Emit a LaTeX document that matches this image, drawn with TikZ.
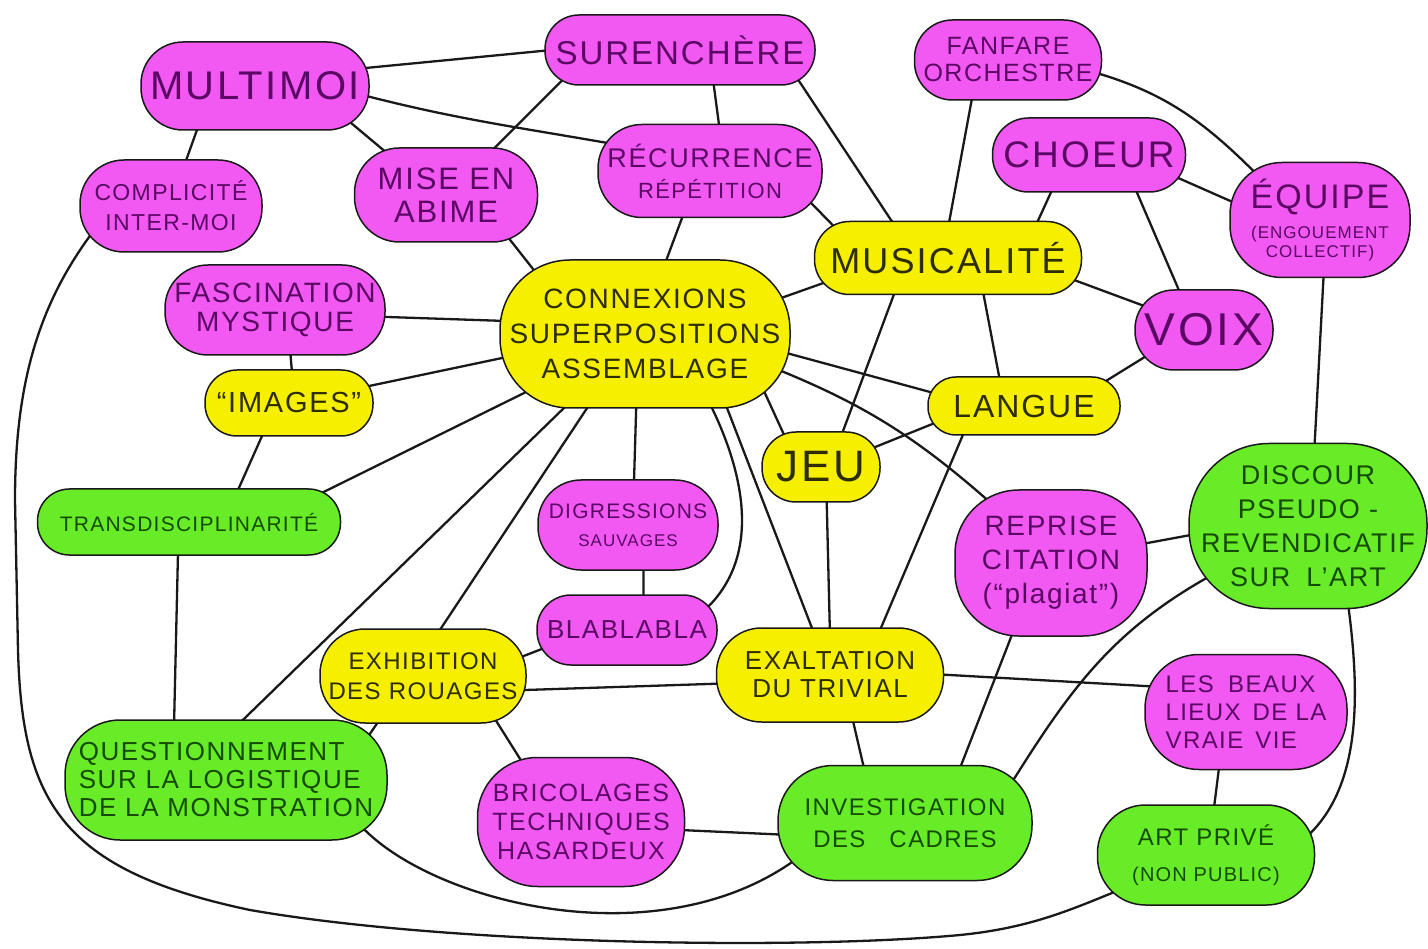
\documentclass[tikz,border=0pt]{standalone}
\usepackage{fontspec}
\setmainfont{Liberation Sans}[LetterSpace=6]
\usetikzlibrary{backgrounds,calc}
\definecolor{mag}{RGB}{242,88,242}
\definecolor{yel}{RGB}{246,240,0}
\definecolor{grn}{RGB}{104,236,40}
\definecolor{magt}{RGB}{90,8,100}
\definecolor{yelt}{RGB}{45,45,0}
\definecolor{grnt}{RGB}{20,75,0}
\definecolor{ink}{RGB}{25,25,25}
\newcommand{\fsz}[2]{\fontsize{#1}{#2}\selectfont}
\tikzset{
  blob/.style={draw=ink, line width=1.5pt, inner sep=0pt, align=center, shape=rectangle},
  mg/.style={blob, fill=mag, text=magt},
  yl/.style={blob, fill=yel, text=yelt},
  gr/.style={blob, fill=grn, text=grnt},
  sz/.style n args={3}{minimum width=#1, minimum height=#2, rounded corners=#3},
  link/.style={draw=ink, line width=2.3pt, line cap=round},
}
\begin{document}
\begin{tikzpicture}[x=1pt,y=-1pt]
\useasboundingbox (0,0) rectangle (1428,949);
% nodes
\node[mg,sz={228pt}{88pt}{42pt},font={\fsz{40}{44}}] (mul) at (255,86) {MULTIMOI};
\node[mg,sz={270pt}{70pt}{34pt},font={\fsz{33}{36}}] (sur) at (680,50) {SURENCHÈRE};
\node[mg,sz={187pt}{80pt}{38pt},font={\fsz{25}{27}}] (fan) at (1008,60) {FANFARE\\ORCHESTRE};
\node[mg,sz={182pt}{92pt}{44pt},font={\fsz{23}{30}}] (com) at (171,206) {COMPLICITÉ\\INTER-MOI};
\node[mg,sz={183pt}{94pt}{45pt},font={\fsz{31}{33}}] (mise) at (446,195) {MISE EN\\ABIME};
\node[mg,sz={224pt}{93pt}{44pt},font={\fsz{27}{31}}] (rec) at (710,171) {RÉCURRENCE\\{\fsz{22}{26}RÉPÉTITION}};
\node[mg,sz={193pt}{74pt}{36pt},font={\fsz{37}{40}}] (cho) at (1089,155) {CHOEUR};
\node[mg,sz={180pt}{115pt}{52pt},font={\fsz{17}{19}}] (equ) at (1320,220) {{\fsz{34}{36}ÉQUIPE}\\[11pt](ENGOUEMENT\\COLLECTIF)};
\node[yl,sz={267pt}{73pt}{35pt},font={\fsz{36}{40}}] (mus) at (948,258) {MUSICALITÉ};
\node[mg,sz={220pt}{90pt}{43pt},font={\fsz{28}{29}}] (fas) at (275,310) {FASCINATION\\MYSTIQUE};
\node[yl,sz={290pt}{148pt}{70pt},font={\fsz{28}{35}}] (con) at (645,334) {CONNEXIONS\\SUPERPOSITIONS\\ASSEMBLAGE};
\node[mg,sz={138pt}{80pt}{39pt},font={\fsz{46}{48}}] (voi) at (1204,330) {VOIX};
\node[yl,sz={168pt}{66pt}{32pt},font={\fsz{29}{32}}] (ima) at (289,403) {“IMAGES”};
\node[yl,sz={192pt}{58pt}{28pt},font={\fsz{32}{34}}] (lan) at (1024,406) {LANGUE};
\node[yl,sz={118pt}{70pt}{34pt},font={\fsz{44}{46}}] (jeu) at (821,467) {JEU};
\node[gr,sz={303pt}{66pt}{32pt},font={\fsz{21}{24}}] (tra) at (189,522) {TRANSDISCIPLINARITÉ};
\node[mg,sz={180pt}{90pt}{43pt},font={\fsz{21}{28}}] (dig) at (628,525) {DIGRESSIONS\\{\fsz{17}{20}SAUVAGES}};
\node[mg,sz={192pt}{146pt}{64pt},font={\fsz{28}{34}}] (rep) at (1051,563) {REPRISE\\CITATION\\(“plagiat”)};
\node[gr,sz={238pt}{165pt}{80pt},font={\fsz{27}{34}}] (dis) at (1308,526) {DISCOUR\\PSEUDO -\\REVENDICATIF\\SUR\hspace{0.6em}L’ART};
\node[mg,sz={180pt}{70pt}{34pt},font={\fsz{26}{28}}] (bla) at (627,630) {BLABLABLA};
\node[yl,sz={206pt}{94pt}{45pt},font={\fsz{24}{30}}] (exh) at (423,676) {EXHIBITION\\DES ROUAGES};
\node[yl,sz={227pt}{94pt}{45pt},font={\fsz{26}{28}}] (exa) at (830,675) {EXALTATION\\DU TRIVIAL};
\node[mg,sz={202pt}{115pt}{54pt},font={\fsz{24}{28}},align=left] (lbe) at (1246,712) {LES\hspace{0.6em}BEAUX\\LIEUX\hspace{0.5em}DE LA\\VRAIE\hspace{0.5em}VIE};
\node[gr,sz={322pt}{120pt}{55pt},font={\fsz{26}{28}},align=left] (que) at (226,780) {QUESTIONNEMENT\\SUR LA LOGISTIQUE\\DE LA MONSTRATION};
\node[mg,sz={207pt}{129pt}{60pt},font={\fsz{25}{29}}] (bri) at (581,822) {BRICOLAGES\\TECHNIQUES\\HASARDEUX};
\node[gr,sz={254pt}{115pt}{55pt},font={\fsz{24}{32}}] (inv) at (905,823) {INVESTIGATION\\DES\hspace{1em}CADRES};
\node[gr,sz={217pt}{100pt}{48pt},font={\fsz{20}{36}}] (art) at (1206,855) {{\fsz{24}{36}ART PRIVÉ}\\(NON PUBLIC)};
% connectors (drawn behind the nodes, from points just inside each node)
\begin{scope}[on background layer]
\fill[white] (0,0) rectangle (1428,949);
\draw[link] ($(mul)!0.8!(mul.10)$) -- ($(sur)!0.8!(sur.179)$);
\draw[link] ($(mul)!0.8!(mul.-3)$) to[out=-15,in=170] ($(rec)!0.8!(rec.164)$);
\draw[link] ($(mul)!0.8!(mul.-20)$) -- ($(mise)!0.8!(mise.145)$);
\draw[link] ($(mul)!0.8!(mul.213)$) -- ($(com)!0.8!(com.72)$);
\draw[link] ($(sur)!0.8!(sur.191)$) -- ($(mise)!0.8!(mise.44)$);
\draw[link] ($(sur)!0.8!(sur.-41)$) -- ($(rec)!0.8!(rec.75)$);
\draw[link] ($(sur)!0.8!(sur.-8)$) -- ($(mus)!0.8!(mus.150)$);
\draw[link] ($(rec)!0.8!(rec.237)$) -- ($(con)!0.8!(con.75)$);
\draw[link] ($(rec)!0.8!(rec.-13)$) -- ($(mus)!0.8!(mus.167)$);
\draw[link] ($(mise)!0.8!(mise.-33)$) -- ($(con)!0.8!(con.151)$);
\draw[link] ($(fan)!0.8!(fan.223)$) -- ($(mus)!0.8!(mus.90)$);
\draw[link] ($(fan)!0.8!(fan.-7)$) to[out=-15,in=135] ($(equ)!0.8!(equ.144)$);
\draw[link] ($(cho)!0.8!(cho.-13)$) -- ($(equ)!0.8!(equ.171)$);
\draw[link] ($(cho)!0.8!(cho.221)$) -- ($(mus)!0.8!(mus.19)$);
\draw[link] ($(cho)!0.8!(cho.-34)$) -- ($(voi)!0.8!(voi.124)$);
\draw[link] ($(mus)!0.8!(mus.190)$) -- ($(con)!0.8!(con.14)$);
\draw[link] ($(mus)!0.8!(mus.-8)$) -- ($(voi)!0.8!(voi.158)$);
\draw[link] ($(mus)!0.8!(mus.-41)$) -- ($(lan)!0.8!(lan.135)$);
\draw[link] ($(mus)!0.8!(mus.210)$) -- ($(jeu)!0.8!(jeu.56)$);
\draw[link] ($(equ)!0.8!(equ.-85)$) -- ($(dis)!0.8!(dis.85)$);
\draw[link] ($(voi)!0.8!(voi.204)$) -- ($(lan)!0.8!(lan.16)$);
\draw[link] ($(fas)!0.8!(fas.-4)$) -- ($(con)!0.8!(con.174)$);
\draw[link] ($(fas)!0.8!(fas.-68)$) -- ($(ima)!0.8!(ima.83)$);
\draw[link] ($(ima)!0.8!(ima.12)$) -- ($(con)!0.8!(con.189)$);
\draw[link] ($(ima)!0.8!(ima.228)$) -- ($(tra)!0.8!(tra.30)$);
\draw[link] ($(tra)!0.8!(tra.11)$) -- ($(con)!0.8!(con.206)$);
\draw[link] ($(tra)!0.8!(tra.248)$) -- ($(que)!0.8!(que.137)$);
\draw[link] ($(con)!0.8!(con.222)$) -- ($(que)!0.8!(que.84)$);
\draw[link] ($(con)!0.8!(con.231)$) -- ($(exh)!0.8!(exh.73)$);
\draw[link] ($(con)!0.8!(con.262)$) -- ($(dig)!0.8!(dig.81)$);
\draw[link] ($(dig)!0.8!(dig.-67)$) -- ($(bla)!0.8!(bla.60)$);
\draw[link] ($(con)!0.8!(con.-45)$) .. controls (745,470) and (765,560) .. ($(bla)!0.8!(bla.12)$);
\draw[link] ($(con)!0.8!(con.-38)$) -- ($(exa)!0.8!(exa.111)$);
\draw[link] ($(con)!0.8!(con.-24)$) -- ($(jeu)!0.8!(jeu.141)$);
\draw[link] ($(con)!0.8!(con.-6)$) -- ($(lan)!0.8!(lan.173)$);
\draw[link] ($(con)!0.8!(con.-14)$) to[bend left=10] ($(rep)!0.8!(rep.135)$);
\draw[link] ($(jeu)!0.8!(jeu.20)$) -- ($(lan)!0.8!(lan.189)$);
\draw[link] ($(jeu)!0.8!(jeu.-79)$) -- ($(exa)!0.8!(exa.90)$);
\draw[link] ($(lan)!0.8!(lan.202)$) -- ($(exa)!0.8!(exa.39)$);
\draw[link] ($(rep)!0.8!(rep.12)$) -- ($(dis)!0.8!(dis.183)$);
\draw[link] ($(rep)!0.8!(rep.240)$) -- ($(inv)!0.8!(inv.42)$);
\draw[link] ($(dis)!0.8!(dis.207)$) to[out=209,in=58] ($(inv)!0.8!(inv.18)$);
\draw[link] ($(dis)!0.8!(dis.-60)$) .. controls (1362,700) and (1362,800) .. ($(art)!0.8!(art.5)$);
\draw[link] ($(exh)!0.8!(exh.9)$) -- ($(bla)!0.8!(bla.191)$);
\draw[link] ($(exh)!0.8!(exh.-10)$) -- ($(exa)!0.8!(exa.185)$);
\draw[link] ($(exh)!0.8!(exh.224)$) -- ($(que)!0.8!(que.11)$);
\draw[link] ($(exh)!0.8!(exh.-29)$) -- ($(bri)!0.8!(bri.136)$);
\draw[link] ($(exa)!0.8!(exa.1)$) -- ($(lbe)!0.8!(lbe.163)$);
\draw[link] ($(exa)!0.8!(exa.-61)$) -- ($(inv)!0.8!(inv.130)$);
\draw[link] ($(lbe)!0.8!(lbe.241)$) -- ($(art)!0.8!(art.80)$);
\draw[link] ($(bri)!0.8!(bri.-5)$) -- ($(inv)!0.8!(inv.187)$);
\draw[link] ($(que)!0.8!(que.-17)$) .. controls (420,900) and (660,965) .. ($(inv)!0.8!(inv.197)$);
\draw[link] ($(com)!0.8!(com.195)$) .. controls (40,300) and (15,380) .. (15,500) -- (18,650)
  .. controls (22,800) and (60,870) .. (250,910)
  .. controls (450,945) and (800,950) .. (960,935)
  .. controls (1030,928) and (1070,910) .. ($(art)!0.8!(art.202)$);
\end{scope}
\end{tikzpicture}
\end{document}
